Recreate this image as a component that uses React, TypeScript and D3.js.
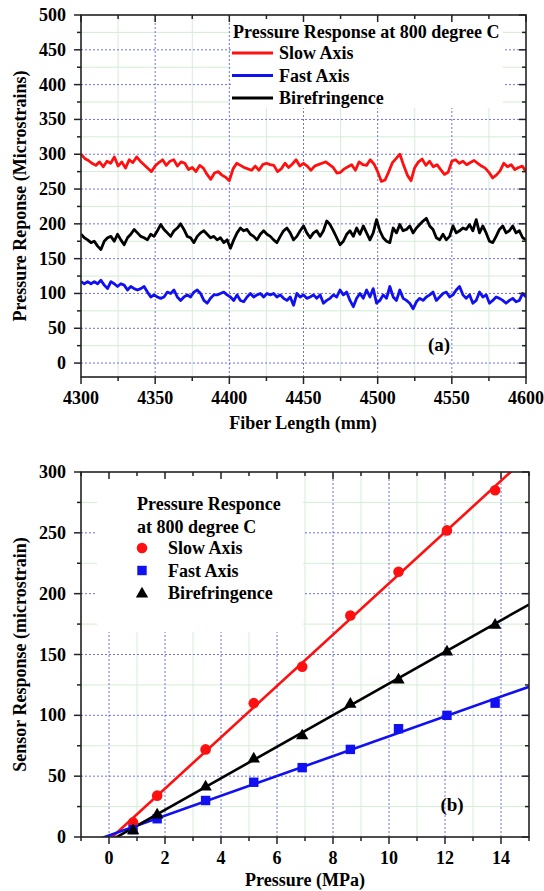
import React from "react";
import * as d3 from "d3";

// ---------- Panel (a) data ----------
const FIBER_START = 4300;
const FIBER_END = 4600;
const FIBER_TICKS = [4300, 4350, 4400, 4450, 4500, 4550, 4600];
const RESP_TICKS_A = [0, 50, 100, 150, 200, 250, 300, 350, 400, 450, 500];

const slowAxisA = [
  300, 294, 291, 287, 284, 289, 282, 290, 287, 296, 283, 289, 280, 292, 288, 296, 290, 285, 280, 275,
  283, 288, 292, 284, 290, 292, 283, 289, 287, 278, 281, 275, 284, 280, 271, 264, 273, 275, 270, 267,
  262, 279, 287, 284, 281, 279, 277, 283, 277, 285, 287, 285, 284, 275, 279, 287, 281, 286, 292, 283,
  287, 283, 277, 283, 285, 287, 289, 285, 281, 273, 274, 279, 282, 285, 277, 289, 285, 284, 292, 286,
  275, 261, 263, 275, 288, 294, 300, 284, 270, 262, 281, 289, 293, 284, 290, 282, 285, 278, 271, 274,
  290, 292, 287, 290, 285, 288, 291, 287, 283, 280, 274, 266, 270, 276, 287, 282, 285, 278, 281, 283,
  275,
];

const fastAxisA = [
  117, 114, 117, 114, 117, 114, 119, 112, 107, 117, 114, 110, 114, 112, 105, 110, 107, 105, 107, 110,
  102, 95, 98, 95, 93, 95, 102, 100, 105, 95, 90, 95, 98, 95, 102, 105, 100, 90, 86, 93,
  98, 98, 100, 102, 98, 95, 90, 98, 90, 88, 95, 100, 95, 98, 100, 95, 100, 98,
  100, 95, 98, 93, 90, 95, 83, 100, 95, 98, 93, 95, 98, 93, 98, 86, 90, 93, 98, 95,
  105, 98, 102, 90, 81, 93, 100, 93, 105, 95, 107, 86, 90, 98, 93, 110, 95, 90, 105, 93,
  90, 86, 78, 88, 93, 90, 95, 98, 102, 90, 95, 100, 102, 95, 98, 105, 110, 98, 93, 98,
  86, 90, 102, 95, 98, 86, 90, 95, 93, 90, 86, 90, 93, 88, 90, 100, 95,
];

const birefringenceA = [
  185, 180, 177, 173, 175, 168, 163, 175, 180, 182, 175, 185, 177, 170, 180, 185, 192, 187, 182, 180,
  177, 185, 182, 190, 199, 192, 187, 182, 190, 194, 200, 192, 182, 180, 173, 182, 187, 190, 185, 180,
  182, 177, 180, 173, 177, 165, 177, 187, 194, 190, 192, 185, 182, 177, 185, 190, 185, 182,
  177, 173, 182, 190, 194, 187, 177, 182, 190, 197, 187, 180, 187, 190, 182, 190, 204, 199, 190, 180,
  170, 175, 185, 190, 182, 194, 185, 197, 187, 177, 187, 206, 190, 180, 175, 173, 194, 187, 199, 190,
  192, 197, 187, 194, 199, 204, 208, 197, 192, 180, 177, 185, 177, 182, 197, 187, 190, 194, 192, 199,
  190, 206, 187, 197, 187, 175, 173, 182, 192, 197, 187, 190, 197, 187, 190, 180, 177,
];

// ---------- Panel (b) data ----------
const pressureMPa = [0.86, 1.72, 3.45, 5.17, 6.9, 8.62, 10.34, 12.07, 13.79];
const slowAxisB = [12, 34, 72, 110, 140, 182, 218, 252, 285];
const fastAxisB = [6, 15, 30, 45, 57, 72, 89, 100, 110];
const birefringenceB = [6, 19, 42, 65, 84, 110, 130, 153, 175];
const PRESSURE_TICKS = [0, 2, 4, 6, 8, 10, 12, 14];
const RESP_TICKS_B = [0, 50, 100, 150, 200, 250, 300];

const RED = "#ff1010";
const BLUE = "#1010f0";
const BLACK = "#000000";
const GRID_BLUE = "#6f6fe6";
const GRID_GREEN = "#d4ecd4";
const FONT = "'Liberation Serif', 'Times New Roman', serif";
const FS = 18;

function linFit(xs: number[], ys: number[]) {
  const mx = d3.mean(xs)!;
  const my = d3.mean(ys)!;
  let num = 0, den = 0;
  xs.forEach((x, i) => { num += (x - mx) * (ys[i] - my); den += (x - mx) * (x - mx); });
  const b = num / den;
  return { slope: b, intercept: my - b * mx };
}

type AxisCfg = {
  x: d3.ScaleLinear<number, number>;
  y: d3.ScaleLinear<number, number>;
  xMajor: number[];
  xMinor: number[];
  yMajor: number[];
  yMinor: number[];
  xGridMajor: number[];
  xGridMinor: number[];
  yGridMajor: number[];
  yGridMinor: number[];
};

function Grid({ c }: { c: AxisCfg }) {
  const [x0, x1] = c.x.range();
  const [y0, y1] = c.y.range();
  return (
    <g>
      {c.xGridMinor.map((v) => (
        <line key={"xgm" + v} x1={c.x(v)} x2={c.x(v)} y1={y0} y2={y1} stroke={GRID_GREEN} strokeWidth={1} />
      ))}
      {c.yGridMinor.map((v) => (
        <line key={"ygm" + v} x1={x0} x2={x1} y1={c.y(v)} y2={c.y(v)} stroke={GRID_GREEN} strokeWidth={1} />
      ))}
      {c.xGridMajor.map((v) => (
        <line key={"xgM" + v} x1={c.x(v)} x2={c.x(v)} y1={y0} y2={y1} stroke={GRID_BLUE} strokeWidth={1} strokeDasharray="2,2" />
      ))}
      {c.yGridMajor.map((v) => (
        <line key={"ygM" + v} x1={x0} x2={x1} y1={c.y(v)} y2={c.y(v)} stroke={GRID_BLUE} strokeWidth={1} strokeDasharray="2,2" />
      ))}
    </g>
  );
}

function Frame({ c, xFmt, yFmt }: { c: AxisCfg; xFmt: (v: number) => string; yFmt: (v: number) => string }) {
  const [x0, x1] = c.x.range();
  const [yb, yt] = c.y.range();
  const M = 7, m = 4;
  return (
    <g>
      <rect x={x0} y={yt} width={x1 - x0} height={yb - yt} fill="none" stroke="#222" strokeWidth={1.6} />
      {c.xMajor.map((v) => (
        <g key={"xM" + v}>
          <line x1={c.x(v)} x2={c.x(v)} y1={yb} y2={yb + M} stroke="#222" strokeWidth={1.5} />
          <line x1={c.x(v)} x2={c.x(v)} y1={yt} y2={yt + M} stroke="#222" strokeWidth={1.5} />
          <text x={c.x(v)} y={yb + 27} textAnchor="middle" fontFamily={FONT} fontWeight="bold" fontSize={FS}>
            {xFmt(v)}
          </text>
        </g>
      ))}
      {c.xMinor.map((v) => (
        <g key={"xm" + v}>
          <line x1={c.x(v)} x2={c.x(v)} y1={yb} y2={yb + m} stroke="#222" strokeWidth={1.5} />
          <line x1={c.x(v)} x2={c.x(v)} y1={yt} y2={yt + m} stroke="#222" strokeWidth={1.5} />
        </g>
      ))}
      {c.yMajor.map((v) => (
        <g key={"yM" + v}>
          <line x1={x0 - M} x2={x0} y1={c.y(v)} y2={c.y(v)} stroke="#222" strokeWidth={1.5} />
          <line x1={x1 - M} x2={x1} y1={c.y(v)} y2={c.y(v)} stroke="#222" strokeWidth={1.5} />
          <text x={x0 - 15} y={c.y(v) + 6} textAnchor="end" fontFamily={FONT} fontWeight="bold" fontSize={FS}>
            {yFmt(v)}
          </text>
        </g>
      ))}
      {c.yMinor.map((v) => (
        <g key={"ym" + v}>
          <line x1={x0 - m} x2={x0} y1={c.y(v)} y2={c.y(v)} stroke="#222" strokeWidth={1.5} />
          <line x1={x1 - m} x2={x1} y1={c.y(v)} y2={c.y(v)} stroke="#222" strokeWidth={1.5} />
        </g>
      ))}
    </g>
  );
}

function Marker({ kind, cx, cy, color }: { kind: string; cx: number; cy: number; color: string }) {
  if (kind === "circle") return <circle cx={cx} cy={cy} r={5.3} fill={color} />;
  if (kind === "square") return <rect x={cx - 4.7} y={cy - 4.7} width={9.4} height={9.4} fill={color} />;
  const p = d3.symbol().type(d3.symbolTriangle).size(66)()!;
  return <path d={p} transform={`translate(${cx},${cy + 1})`} fill={color} />;
}

export default function App() {
  // ---- Panel (a) ----
  const xA = d3.scaleLinear().domain([FIBER_START, FIBER_END]).range([81, 526]);
  const yA = d3.scaleLinear().domain([-20, 500]).range([377, 15]);
  const cA: AxisCfg = {
    x: xA,
    y: yA,
    xMajor: FIBER_TICKS,
    xMinor: d3.range(4325, 4600, 50),
    yMajor: RESP_TICKS_A,
    yMinor: d3.range(25, 500, 50),
    xGridMajor: FIBER_TICKS.slice(1, -1),
    xGridMinor: d3.range(4325, 4600, 50),
    yGridMajor: RESP_TICKS_A.slice(0, -1),
    yGridMinor: d3.range(25, 500, 50),
  };
  const seriesA = [
    { name: "Slow Axis", data: slowAxisA, color: RED },
    { name: "Fast Axis", data: fastAxisA, color: BLUE },
    { name: "Birefringence", data: birefringenceA, color: BLACK },
  ];
  const lineFor = (arr: number[]) => {
    const idx = d3.scaleLinear().domain([0, arr.length - 1]).range([FIBER_START, FIBER_END]);
    return d3
      .line<number>()
      .x((_, i) => xA(idx(i)))
      .y((d) => yA(d))(arr)!;
  };

  // ---- Panel (b) ----
  const xB = d3.scaleLinear().domain([-1, 15]).range([81, 529]);
  const yB = d3.scaleLinear().domain([0, 300]).range([837, 472]);
  const cB: AxisCfg = {
    x: xB,
    y: yB,
    xMajor: PRESSURE_TICKS,
    xMinor: d3.range(-1, 16, 2),
    yMajor: RESP_TICKS_B,
    yMinor: d3.range(25, 300, 50),
    xGridMajor: PRESSURE_TICKS,
    xGridMinor: d3.range(1, 15, 2),
    yGridMajor: RESP_TICKS_B.slice(1, -1),
    yGridMinor: d3.range(25, 300, 50),
  };
  const seriesB = [
    { name: "Slow Axis", data: slowAxisB, color: RED, kind: "circle" },
    { name: "Fast Axis", data: fastAxisB, color: BLUE, kind: "square" },
    { name: "Birefringence", data: birefringenceB, color: BLACK, kind: "triangle" },
  ];

  return (
    <svg
      width={544}
      height={891}
      style={{ position: "absolute", left: 0, top: 0, background: "#fff" }}
      fontFamily={FONT}
    >
      <defs>
        <clipPath id="clipA">
          <rect x={81} y={15} width={445} height={362} />
        </clipPath>
        <clipPath id="clipB">
          <rect x={81} y={472} width={448} height={365} />
        </clipPath>
      </defs>

      {/* ===== Panel (a) ===== */}
      <Grid c={cA} />
      <rect x={231} y={17} width={272} height={91} fill="#fff" />
      <g clipPath="url(#clipA)">
        {seriesA.map((s) => (
          <path key={s.name} d={lineFor(s.data)} fill="none" stroke={s.color} strokeWidth={2.8} strokeLinejoin="round" />
        ))}
      </g>
      <Frame c={cA} xFmt={(v) => String(v)} yFmt={(v) => String(v)} />
      <text x={233} y={38} fontWeight="bold" fontSize={FS}>
        Pressure Response at 800 degree C
      </text>
      {seriesA.map((s, i) => (
        <g key={"legA" + s.name}>
          <line x1={232} x2={273} y1={53 + i * 22.5} y2={53 + i * 22.5} stroke={s.color} strokeWidth={2.8} />
          <text x={279} y={59 + i * 22.5} fontWeight="bold" fontSize={FS}>
            {s.name}
          </text>
        </g>
      ))}
      <text x={439} y={351} textAnchor="middle" fontWeight="bold" fontSize={19}>
        (a)
      </text>
      <text x={303} y={429} textAnchor="middle" fontWeight="bold" fontSize={FS}>
        Fiber Length (mm)
      </text>
      <text
        transform={`translate(26,${(15 + 377) / 2}) rotate(-90)`}
        textAnchor="middle"
        fontWeight="bold"
        fontSize={FS}
      >
        Pressure Reponse (Microstrains)
      </text>

      {/* ===== Panel (b) ===== */}
      <Grid c={cB} />
      <rect x={97} y={474} width={206} height={158} fill="#fff" />
      <g clipPath="url(#clipB)">
        {seriesB.map((s) => {
          const f = linFit(pressureMPa, s.data);
          const dom = xB.domain();
          return (
            <line
              key={"fit" + s.name}
              x1={xB(dom[0])}
              y1={yB(f.intercept + f.slope * dom[0])}
              x2={xB(dom[1])}
              y2={yB(f.intercept + f.slope * dom[1])}
              stroke={s.color}
              strokeWidth={2.6}
            />
          );
        })}
        {seriesB.map((s) =>
          s.data.map((v, i) => (
            <Marker key={s.name + i} kind={s.kind} cx={xB(pressureMPa[i])} cy={yB(v)} color={s.color} />
          ))
        )}
      </g>
      <Frame c={cB} xFmt={(v) => String(v)} yFmt={(v) => String(v)} />
      <text x={137} y={510} fontWeight="bold" fontSize={FS}>
        Pressure Responce
      </text>
      <text x={137} y={533} fontWeight="bold" fontSize={FS}>
        at 800 degree C
      </text>
      {seriesB.map((s, i) => (
        <g key={"legB" + s.name}>
          <Marker kind={s.kind} cx={142} cy={548 + i * 22.5} color={s.color} />
          <text x={168} y={554 + i * 22.5} fontWeight="bold" fontSize={FS}>
            {s.name}
          </text>
        </g>
      ))}
      <text x={452} y={811} textAnchor="middle" fontWeight="bold" fontSize={19}>
        (b)
      </text>
      <text x={305} y={886} textAnchor="middle" fontWeight="bold" fontSize={FS}>
        Pressure (MPa)
      </text>
      <text
        transform={`translate(26,${(472 + 837) / 2}) rotate(-90)`}
        textAnchor="middle"
        fontWeight="bold"
        fontSize={FS}
      >
        Sensor Response (microstrain)
      </text>
    </svg>
  );
}
